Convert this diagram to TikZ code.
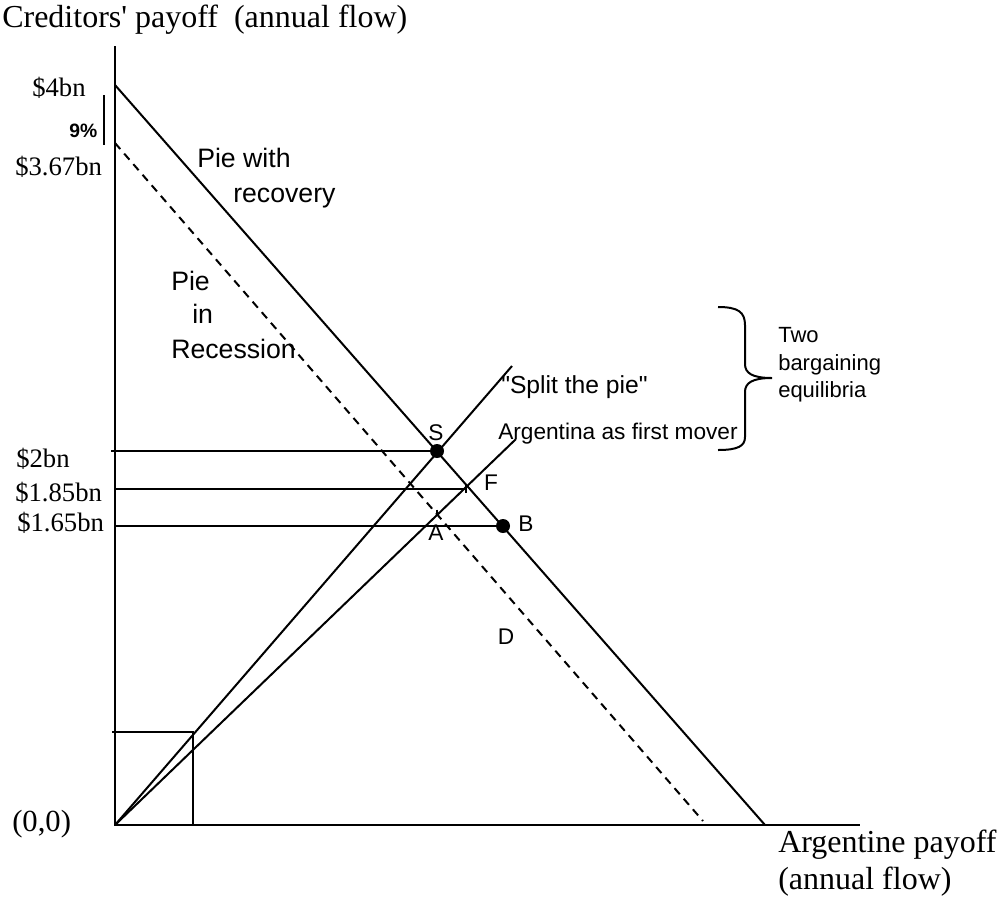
\documentclass[tikz,border=0pt]{standalone}
\usepackage{fontspec}
\setmainfont{Liberation Serif}[Ligatures=TeXOff]
\newfontfamily\arial{Liberation Sans}[Ligatures=TeXOff]
\begin{document}
\begin{tikzpicture}[x=0.75pt,y=-0.75pt,
  ln/.style={line width=1.5pt},
  axisline/.style={line width=1.8pt},
  dsh/.style={line width=1.5pt, dash pattern=on 6pt off 4.5pt},
  tnr/.style={inner sep=0pt, anchor=base west, font=\fontsize{20}{24}\selectfont},
  sans/.style={inner sep=0pt, anchor=base west, font=\arial\fontsize{17}{20}\selectfont},
  eqdot/.style={circle, fill=black, inner sep=0pt, minimum size=10.5pt}]
\useasboundingbox (0,0) rectangle (1003,897);
% key points
\coordinate (O) at (115,825);
\coordinate (Ytop) at (115,46);
\coordinate (Xend) at (860,825);
\coordinate (R1) at (115,85);
\coordinate (R2) at (765,825);
\coordinate (D1) at (115,143);
\coordinate (D2) at (703,821);
\coordinate (F) at (466,489);
\coordinate (Aa) at (437,513);
\coordinate (SP) at (512,366);
\coordinate (AF) at (516,439);
\coordinate (T2) at (111,451);
\coordinate (T185) at (115,489);
\coordinate (T165) at (115,526);
\coordinate (Q1) at (112,732);
\coordinate (Q2) at (193,732);
\coordinate (Q3) at (193,825);
\coordinate (N1) at (104,95);
\coordinate (N2) at (104,145);
% axes
\draw[axisline] (Ytop) -- (O) -- (Xend);
% pies
\draw[ln] (R1) -- (R2);
\draw[dsh] (D1) -- (D2);
% rays
\draw[ln] (O) -- (SP);
\draw[ln] (O) -- (AF);
% small square
\draw[ln] (Q1) -- (Q2) -- (Q3);
% 9% bar
\draw[ln] (N1) -- (N2);
% horizontal levels
\node[eqdot] (S) at (437,451) {};
\node[eqdot] (B) at (503,526) {};
\draw[ln] (T2) -- (S.center);
\draw[ln] (T185) -- (F);
\draw[ln] (T165) -- (B.center);
% ticks
\draw[line width=1.2pt] ([yshift=3pt]F) -- ([yshift=-3pt]F);
\draw[line width=1.2pt] ([yshift=2.5pt]Aa) -- ([yshift=-2.5pt]Aa);
% brace
\draw[ln] (718,307) .. controls (738,307) and (745,312) .. (745,325) -- (745,364)
  .. controls (745,373) and (752,378) .. (772,378)
  .. controls (752,378) and (745,383) .. (745,392) -- (745,437)
  .. controls (745,446) and (738,450) .. (718,450);
% Times labels
\node[tnr, font=\fontsize{24}{28}\selectfont] (ylab) at (2,27) {Creditors' payoff\ \ (annual flow)};
\node[tnr] (l4) at (32,96) {\$4bn};
\node[tnr] (l367) at (15,175) {\$3.67bn};
\node[tnr] (l2) at (16,467) {\$2bn};
\node[tnr] (l185) at (15,501) {\$1.85bn};
\node[tnr] (l165) at (17,531) {\$1.65bn};
\node[tnr, font=\fontsize{23}{27}\selectfont] (orig) at (12,831) {(0,0)};
\node[tnr, font=\fontsize{24}{28}\selectfont] (xlab1) at (778,852) {Argentine payoff};
\node[tnr, font=\fontsize{24}{28}\selectfont] (xlab2) at (778,889) {(annual flow)};
% Sans labels
\node[sans, font=\arial\bfseries\fontsize{14.5}{17}\selectfont] (pct) at (69,137) {9\%};
\node[sans, font=\arial\fontsize{20}{24}\selectfont] (pw1) at (197,167) {Pie with};
\node[sans, font=\arial\fontsize{20}{24}\selectfont] (pw2) at (233,202) {recovery};
\node[sans, font=\arial\fontsize{20}{24}\selectfont] (pr1) at (171,290) {Pie};
\node[sans, font=\arial\fontsize{20}{24}\selectfont] (pr2) at (192,323) {in};
\node[sans, font=\arial\fontsize{20}{24}\selectfont] (pr3) at (171,358) {Recession};
\node[sans, font=\arial\fontsize{18.5}{22}\selectfont] (spl) at (501,393) {"Split the pie"};
\node[sans] (arg) at (498,439) {Argentina as first mover};
\node[sans, font=\arial\fontsize{16.5}{20}\selectfont] (tw1) at (778,342) {Two};
\node[sans, font=\arial\fontsize{16.5}{20}\selectfont] (tw2) at (778,370) {bargaining};
\node[sans, font=\arial\fontsize{16.5}{20}\selectfont] (tw3) at (778,397) {equilibria};
\node[sans, anchor=center] (lS) at (436,433) {S};
\node[sans, anchor=center] (lF) at (491,483) {F};
\node[sans, anchor=center] (lB) at (526,524) {B};
\node[sans, anchor=center] (lA) at (436,533) {A};
\node[sans, anchor=center] (lD) at (506,637) {D};
\end{tikzpicture}
\end{document}
